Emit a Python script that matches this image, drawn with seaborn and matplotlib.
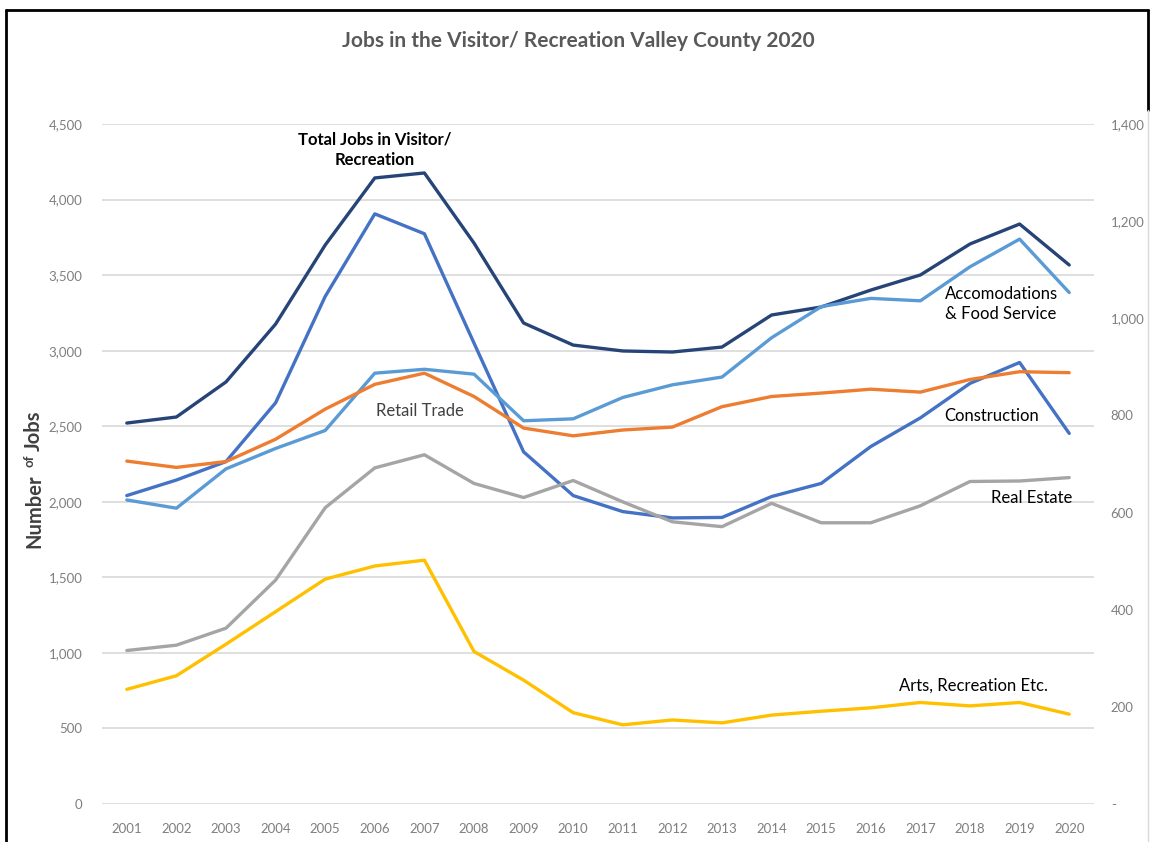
import pandas as pd
import matplotlib.pyplot as plt
import seaborn as sns
from matplotlib.lines import Line2D

# Data
years = list(range(2001, 2021))

# left axis
total_jobs = [2521, 2561, 2793, 3176, 3699, 4143, 4176, 3712, 3183, 3037,
              2998, 2991, 3024, 3236, 3289, 3401, 3501, 3706, 3838, 3567]

# right axis
construction = [635, 667, 705, 826, 1045, 1215, 1174, 949, 725, 635,
                602, 589, 590, 633, 660, 736, 795, 866, 909, 763]
accomodations = [626, 609, 690, 732, 769, 887, 895, 885, 789, 793,
                 837, 863, 879, 960, 1024, 1041, 1036, 1106, 1163, 1053]
retail_trade = [706, 693, 705, 751, 813, 864, 887, 839, 774, 758,
                770, 776, 818, 839, 846, 854, 848, 874, 890, 888]
real_estate = [316, 327, 362, 461, 610, 692, 719, 660, 631, 666,
               622, 581, 571, 619, 579, 579, 614, 664, 665, 672]
arts_recreation = [236, 264, 329, 396, 463, 490, 502, 314, 255, 188,
                   163, 173, 167, 183, 191, 198, 209, 202, 209, 185]

left_ticks = list(range(0, 5000, 500))
right_ticks = list(range(0, 1600, 200))

sns.set_style("white")
plt.rcParams['font.family'] = ['Lato', 'DejaVu Sans']

grey_txt = "#7f7f7f"
dark_txt = "#404040"

fig = plt.figure(figsize=(11.51, 8.42), dpi=100)
ax = fig.add_axes([102 / 1151, 38 / 842, (1094 - 102) / 1151, 680 / 842])
ax2 = ax.twinx()

total_df = pd.DataFrame({"Year": years, "Jobs": total_jobs})
sns.lineplot(data=total_df, x="Year", y="Jobs", color="#264478", linewidth=2.4, ax=ax)

comp_df = pd.DataFrame({
    "Year": years * 5,
    "Jobs": construction + accomodations + retail_trade + real_estate + arts_recreation,
    "Sector": (["Construction"] * 20 + ["Accomodations"] * 20 + ["Retail"] * 20
               + ["Real Estate"] * 20 + ["Arts"] * 20),
})
palette = {"Construction": "#4472C4", "Accomodations": "#5B9BD5", "Retail": "#ED7D31",
           "Real Estate": "#A5A5A5", "Arts": "#FFC000"}
sns.lineplot(data=comp_df, x="Year", y="Jobs", hue="Sector", palette=palette,
             linewidth=2.4, ax=ax2, legend=False)

# Axes ranges and ticks
ax.set_xlim(2000.5, 2020.5)
ax.set_ylim(0, 4500)
ax2.set_ylim(0, 1400)
ax.set_yticks(left_ticks)
ax.set_yticklabels([f"{v:,}" for v in left_ticks])
ax2.set_yticks(right_ticks)
ax2.set_yticklabels(["-"] + [f"{v:,}" for v in right_ticks[1:]])
ax.set_xticks(years)
ax.set_xticklabels([str(y) for y in years])

ax.grid(axis="y", color="#d9d9d9", linewidth=1.2)
ax.set_axisbelow(True)
for a in (ax, ax2):
    for s in a.spines.values():
        s.set_visible(False)
    a.tick_params(length=0, labelsize=9.5, labelcolor=grey_txt)
    a.set_xlabel("")
    a.set_ylabel("")
ax.tick_params(axis="y", pad=14)
ax.tick_params(axis="x", pad=14)
ax2.tick_params(axis="y", pad=12)

# Title
fig.text(578 / 1151, 1 - 41 / 842, "Jobs in the Visitor/ Recreation Valley County 2020",
         ha="center", va="center", fontsize=15, fontweight="bold", color="#595959")

# Y label: "Number of Jobs" with a small "of"
fig.text(34 / 1151, 1 - 548 / 842, "Number", rotation=90, ha="center", va="bottom",
         fontsize=14.5, fontweight="bold", color=dark_txt)
fig.text(29 / 1151, 1 - 467 / 842, "of", rotation=90, ha="center", va="bottom",
         fontsize=9.5, fontweight="bold", color=dark_txt)
fig.text(34 / 1151, 1 - 451 / 842, "Jobs", rotation=90, ha="center", va="bottom",
         fontsize=14.5, fontweight="bold", color=dark_txt)

# Series labels
ax.text(2006.0, 4330, "Total Jobs in Visitor/\nRecreation", ha="center", va="center",
        fontsize=12, fontweight="bold", color="black", linespacing=1.3)
ax.text(2006.9, 2601, "Retail Trade", ha="center", va="center", fontsize=12, color=dark_txt)
ax.text(2017.5, 3309, "Accomodations\n& Food Service", ha="left", va="center",
        fontsize=12, color="black", linespacing=1.3)
ax.text(2017.49, 2568, "Construction", ha="left", va="center", fontsize=12, color="black")
ax.text(2018.42, 2025, "Real Estate", ha="left", va="center", fontsize=12, color="black")
ax.text(2018.07, 781, "Arts, Recreation Etc.", ha="center", va="center", fontsize=12, color="black")

# Frame around the picture
fig.add_artist(Line2D([6 / 1151, 1148 / 1151], [1 - 10 / 842, 1 - 10 / 842],
                      transform=fig.transFigure, color="black", linewidth=2))
fig.add_artist(Line2D([6 / 1151, 6 / 1151], [0, 1 - 10 / 842],
                      transform=fig.transFigure, color="black", linewidth=2))
fig.add_artist(Line2D([1148 / 1151, 1148 / 1151], [1 - 110 / 842, 1 - 10 / 842],
                      transform=fig.transFigure, color="black", linewidth=2))
fig.add_artist(Line2D([1148 / 1151, 1148 / 1151], [0, 1 - 110 / 842],
                      transform=fig.transFigure, color="#d9d9d9", linewidth=1))

fig.savefig("out.png", dpi=100)
